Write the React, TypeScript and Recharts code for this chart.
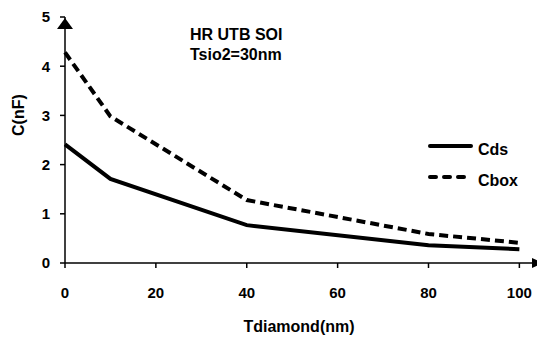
import React from "react";
import { LineChart, Line, XAxis, YAxis, ReferenceDot } from "recharts";

const tdiamond = [0, 10, 40, 80, 100];
const cds = [2.41, 1.71, 0.77, 0.36, 0.28];
const cbox = [4.28, 2.98, 1.28, 0.59, 0.41];
const xTicks = [0, 20, 40, 60, 80, 100];
const yTicks = [0, 1, 2, 3, 4, 5];
const titleLines = ["HR UTB SOI", "Tsio2=30nm"];
const seriesNames = ["Cds", "Cbox"];

const data = tdiamond.map((t, i) => ({ t, Cds: cds[i], Cbox: cbox[i] }));

const FONT = "'Liberation Sans', Arial, sans-serif";

const RightArrow = (props: any) => {
  const { cx, cy } = props;
  return <path d={`M${cx - 1},${cy - 5} L${cx + 10},${cy} L${cx - 1},${cy + 5} Z`} fill="#000" />;
};
const UpArrow = (props: any) => {
  const { cx, cy } = props;
  return <path d={`M${cx - 8},${cy + 12} L${cx},${cy + 1} L${cx + 8},${cy + 12} Z`} fill="#000" />;
};

const dashes: Record<string, string | undefined> = { Cds: undefined, Cbox: "6 8" };

export default function App() {
  return (
    <div style={{ position: "absolute", left: 0, top: 0, width: 537, height: 337, background: "#fff" }}>
      <LineChart width={537} height={337} data={data} margin={{ top: 17, right: 4, left: 0, bottom: 44 }}>
        <XAxis
          dataKey="t"
          type="number"
          domain={[0, 103]}
          ticks={xTicks}
          stroke="#000"
          strokeWidth={1.5}
          tickSize={5}
          tickMargin={19}
          height={30}
          tick={{ fill: "#000", fontFamily: FONT, fontWeight: "bold", fontSize: 15 }}
          label={{ value: "Tdiamond(nm)", position: "bottom", offset: 28, fill: "#000", fontFamily: FONT, fontWeight: "bold", fontSize: 16 }}
        />
        <YAxis
          type="number"
          domain={[0, 5]}
          ticks={yTicks}
          stroke="#000"
          strokeWidth={1.5}
          width={65}
          tickSize={5}
          tickMargin={10}
          tick={{ fill: "#000", fontFamily: FONT, fontWeight: "bold", fontSize: 15 }}
          label={{ value: "C(nF)", angle: -90, position: "insideLeft", offset: 18, dy: -4, fill: "#000", fontFamily: FONT, fontWeight: "bold", fontSize: 16 }}
        />
        <Line dataKey="Cds" stroke="#000" strokeWidth={4} dot={false} isAnimationActive={false} />
        <Line dataKey="Cbox" stroke="#000" strokeWidth={4} strokeDasharray="9 5" dot={false} isAnimationActive={false} />
        <ReferenceDot x={103} y={0} ifOverflow="visible" shape={RightArrow} />
        <ReferenceDot x={0} y={5} ifOverflow="visible" shape={UpArrow} />
      </LineChart>
      <div
        style={{
          position: "absolute",
          left: 190,
          top: 25,
          fontFamily: FONT,
          fontWeight: "bold",
          fontSize: 16,
          lineHeight: "20px",
          color: "#000",
        }}
      >
        {titleLines.map((l) => (
          <div key={l}>{l}</div>
        ))}
      </div>
      <div style={{ position: "absolute", left: 427, top: 132, fontFamily: FONT, fontWeight: "bold", fontSize: 16, color: "#000" }}>
        {seriesNames.map((n) => (
          <div key={n} style={{ display: "flex", alignItems: "center", height: 31 }}>
            <svg width={47} height={10} style={{ display: "block", position: "relative", top: -2 }}>
              <line x1={3} y1={5} x2={44} y2={5} stroke="#000" strokeWidth={4} strokeDasharray={dashes[n]} strokeLinecap="round" />
            </svg>
            <span style={{ marginLeft: 4, position: "relative", top: 2 }}>{n}</span>
          </div>
        ))}
      </div>
    </div>
  );
}
